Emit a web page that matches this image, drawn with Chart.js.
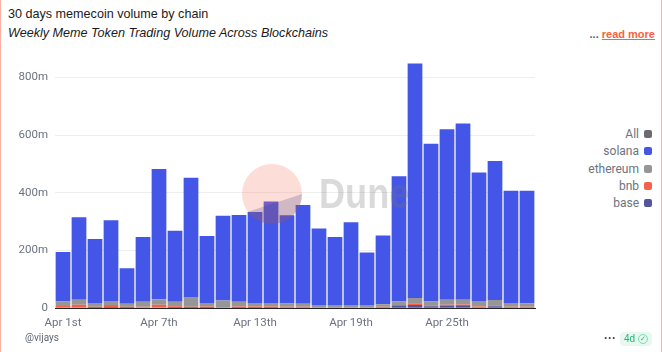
<!DOCTYPE html>
<html>
<head>
<meta charset="utf-8">
<script src="https://cdn.jsdelivr.net/npm/chart.js@4"></script>
<style>
  html, body { margin: 0; padding: 0; background: #fff; }
  body { width: 662px; height: 352px; overflow: hidden; position: relative; font-family: "Liberation Sans", Arial, sans-serif; }
  .edge { position: absolute; top: 0; bottom: 0; width: 1px; background: #fbb0a3; }
  #title { position: absolute; left: 8px; top: 7px; font-size: 12.6px; color: #1a1a22; }
  #subtitle { position: absolute; left: 8px; top: 26px; font-size: 12.6px; font-style: italic; color: #1a1a22; }
  #more { position: absolute; right: 7px; top: 28px; font-size: 11px; font-weight: bold; color: #5a5a66; }
  #more a { color: #f8623f; text-decoration: underline; }
  #wrap { position: absolute; left: 0; top: 49px; width: 540px; height: 289px; }
  #legend { position: absolute; right: 10px; top: 126px; text-align: right; font-size: 12px; color: #6b7280; font-family: Roboto, sans-serif; }
  #legend div { height: 17.3px; line-height: 17.3px; }
  #legend i { display: inline-block; width: 8px; height: 8px; border-radius: 2px; margin-left: 5px; }
  #mark { position: absolute; left: 242px; top: 164px; width: 60px; height: 60px; border-radius: 50%; background: rgba(247,120,95,.25); pointer-events: none; overflow: hidden; }
  #mark b { position: absolute; inset: 0; background: rgba(50,60,130,.22); clip-path: polygon(0 100%, 0 83%, 100% 50%, 100% 100%); }
  #mark2 { position: absolute; left: 319px; top: 170px; font-size: 42px; line-height: 48px; font-weight: bold; color: rgba(120,120,120,.27); pointer-events: none; transform: scaleX(.86); transform-origin: left top; }
  #user { position: absolute; left: 25px; top: 332px; font-size: 10px; color: #5f6672; font-family: Roboto, sans-serif; }
  #dots { position: absolute; left: 604px; top: 331px; font-size: 12px; font-weight: bold; color: #444; }
  #badge { position: absolute; left: 620px; top: 332px; width: 32px; height: 14px; border-radius: 4px; background: #e6f8ef; color: #22b77a; font-size: 10px; line-height: 14px; padding-left: 4px; box-sizing: border-box; }
  #badge span { position: absolute; left: 18px; top: 2px; width: 8px; height: 8px; border: 1px solid #7fdcb4; border-radius: 50%; font-size: 7px; line-height: 8px; text-align: center; }
</style>
</head>
<body>
<div class="edge" style="left:0"></div>
<div class="edge" style="right:0"></div>
<div id="title">30 days memecoin volume by chain</div>
<div id="subtitle">Weekly Meme Token Trading Volume Across Blockchains</div>
<div id="more">... <a>read more</a></div>
<div id="wrap"><canvas id="volumeChart" width="540" height="289"></canvas></div>
<div id="mark"><b></b></div>
<div id="mark2">Dune</div>
<div id="legend"></div>
<div id="user">@vijays</div>
<div id="dots">···</div>
<div id="badge">4d<span>✓</span></div>
<script>
const days = ['Apr 1st','Apr 2nd','Apr 3rd','Apr 4th','Apr 5th','Apr 6th','Apr 7th','Apr 8th','Apr 9th','Apr 10th',
  'Apr 11th','Apr 12th','Apr 13th','Apr 14th','Apr 15th','Apr 16th','Apr 17th','Apr 18th','Apr 19th','Apr 20th',
  'Apr 21st','Apr 22nd','Apr 23rd','Apr 24th','Apr 25th','Apr 26th','Apr 27th','Apr 28th','Apr 29th','Apr 30th'];
const base = [2,2,1,1,1,2,2,1,1,1,2,4,4,4,3,3,2,2,2,2,3,8,11,7,9,10,3,7,3,3];
const bnb = [6,10,4,10,4,3,10,6,4,5,2,2,2,2,2,2,2,2,2,2,2,3,6,3,3,3,3,3,2,2];
const ethereum = [15,17,13,14,10,17,19,15,34,12,23,16,12,12,11,10,7,7,7,7,9,12,18,13,17,16,19,18,13,12];
const solana = [172,286,222,280,123,225,451,246,413,232,293,301,315,352,306,343,265,236,287,182,238,434,813,547,591,611,445,482,389,390];
const yTicks = [0, 200, 400, 600, 800];
const legendNames = ['All','solana','ethereum','bnb','base'];
const legendColors = ['#6b6b70','#4456e8','#969696','#f9604a','#55559e'];

document.getElementById('legend').innerHTML = legendNames.map((n, i) =>
  '<div>' + n + '<i style="background:' + legendColors[i] + '"></i></div>').join('');

function series(label, data, color) {
  return { label, data, backgroundColor: color, stack: 'a', barPercentage: 0.92, categoryPercentage: 1 };
}

new Chart(document.getElementById('volumeChart').getContext('2d'), {
  type: 'bar',
  data: {
    labels: days,
    datasets: [
      series('base', base, '#55559e'),
      series('bnb', bnb, '#f9604a'),
      series('ethereum', ethereum, '#969696'),
      series('solana', solana, '#4456e8')
    ]
  },
  options: {
    responsive: false,
    animation: false,
    layout: { padding: { top: 0, right: 5, bottom: 0, left: 0 } },
    plugins: { legend: { display: false }, tooltip: { enabled: false } },
    scales: {
      x: {
        stacked: true,
        grid: { display: false, drawTicks: false },
        border: { color: '#222', width: 1 },
        ticks: {
          autoSkip: false, maxRotation: 0, padding: 8, color: '#6b7280',
          font: { family: 'Roboto', size: 11.5 },
          callback: function (v, i) { return i % 6 === 0 ? days[i] : ''; }
        }
      },
      y: {
        stacked: true,
        min: 0,
        max: 850,
        afterFit: function (s) { s.width = 55; },
        afterBuildTicks: function (s) { s.ticks = yTicks.map(v => ({ value: v })); },
        grid: { color: '#eeeeee', drawTicks: false },
        border: { display: false },
        ticks: {
          padding: 7, color: '#6b7280',
          font: { family: 'Roboto', size: 11.5 },
          callback: function (v) { return v === 0 ? '0' : v + 'm'; }
        }
      }
    }
  }
});
</script>
</body>
</html>
